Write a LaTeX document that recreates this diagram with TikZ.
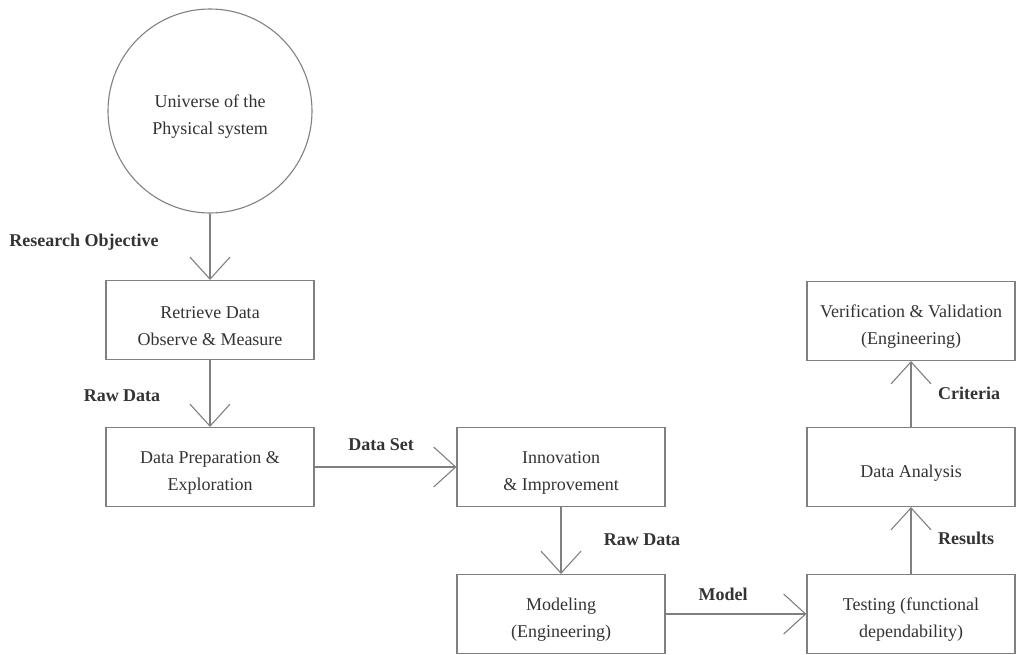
\documentclass[tikz,border=0pt]{standalone}
\usepackage{fontspec}
\setmainfont{Liberation Serif}
\usetikzlibrary{arrows.meta}
\definecolor{ln}{HTML}{808080}
\definecolor{tx}{HTML}{333333}
\begin{document}
\begin{tikzpicture}[x=1pt,y=-1pt,
  btext/.style={text=tx,font=\fontsize{18}{27}\selectfont,align=center,inner sep=0pt,yshift=-6pt},
  box/.style={draw=ln,line width=1.1pt,minimum width=208pt,minimum height=79pt,inner sep=0pt,label={[btext]center:#1}},
  lbl/.style={text=tx,font=\fontsize{18}{22}\selectfont\bfseries,inner sep=0pt},
  arr/.style={draw=ln,line width=1.1pt,-{Straight Barb[length=22pt,width=40pt,line width=1.1pt]}}]
\useasboundingbox (0,0) rectangle (1019,654);
\node[circle,draw=ln,line width=1.1pt,minimum size=204pt,inner sep=0pt,label={[btext]center:{Universe of the\\Physical system}}] (u) at (210,111) {};
\node[box={Retrieve Data\\Observe \& Measure}] (b1) at (210,320) {};
\node[box={Data Preparation \&\\Exploration}] (b2) at (210,467) {};
\node[box={Innovation\\\& Improvement}] (b3) at (561,467) {};
\node[box={Modeling\\(Engineering)}] (b4) at (561,614) {};
\node[box={Testing (functional\\dependability)}] (b5) at (911,614) {};
\node[box={Data Analysis}] (b6) at (911,467) {};
\node[box={Verification \& Validation\\(Engineering)}] (b7) at (911,321) {};
\draw[arr] (u) -- (b1);
\draw[arr] (b1) -- (b2);
\draw[arr] (b2) -- (b3);
\draw[arr] (b3) -- (b4);
\draw[arr] (b4) -- (b5);
\draw[arr] (b5) -- (b6);
\draw[arr] (b6) -- (b7);
\node[lbl] (l1) at (84,242) {Research Objective};
\node[lbl] (l2) at (122,396) {Raw Data};
\node[lbl] (l3) at (381,445) {Data Set};
\node[lbl] (l4) at (642,540) {Raw Data};
\node[lbl] (l5) at (723,594) {Model};
\node[lbl] (l6) at (969,393) {Criteria};
\node[lbl] (l7) at (966,538) {Results};
\end{tikzpicture}
\end{document}
